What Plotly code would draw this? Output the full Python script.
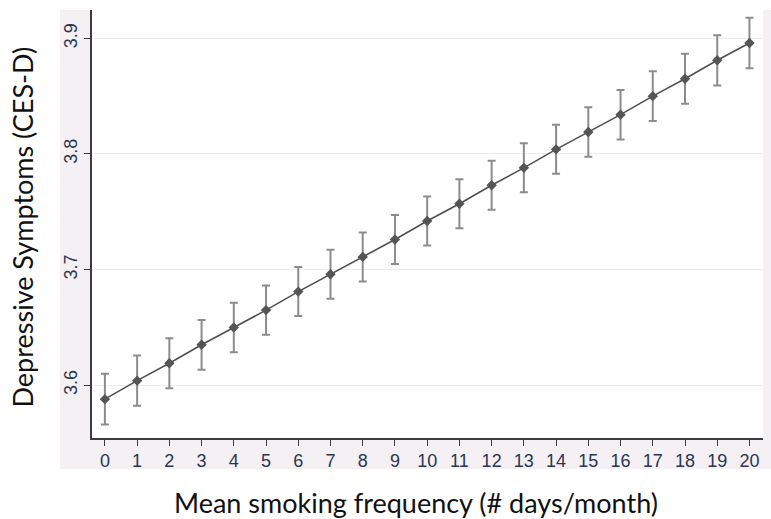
import plotly.graph_objects as go

# Data
smoking_days = list(range(0, 21))
cesd_mean = [3.588, 3.604, 3.619, 3.635, 3.650, 3.665, 3.681, 3.696, 3.711, 3.726,
             3.742, 3.757, 3.773, 3.788, 3.804, 3.819, 3.834, 3.850, 3.865, 3.881, 3.896]
ci_half = [0.022, 0.0218, 0.0216, 0.0215, 0.0214, 0.0213, 0.0212, 0.0212, 0.0212, 0.0212,
           0.0212, 0.0212, 0.0212, 0.0212, 0.0212, 0.0213, 0.0214, 0.0215, 0.0216, 0.0217, 0.0218]
y_ticks = [3.6, 3.7, 3.8, 3.9]
y_tick_labels = ["3.6", "3.7", "3.8", "3.9"]
x_title = "Mean smoking frequency (# days/month)"
y_title = "Depressive Symptoms (CES-D)"

W, H = 771, 519
L, R, T, B = 92, 8, 10, 81
PW, PH = W - L - R, H - T - B

def px_x(p):
    return (p - L) / PW

def px_y(p):
    return (H - B - p) / PH

fig = go.Figure()
fig.add_trace(go.Scatter(
    x=smoking_days, y=cesd_mean, mode="lines+markers",
    line=dict(color="#505050", width=1.6),
    marker=dict(symbol="diamond", size=8, color="#555555"),
    error_y=dict(type="data", array=ci_half, visible=True,
                 color="#8c8c8c", thickness=2, width=4),
    showlegend=False,
))

tick_font = dict(family="Liberation Sans, Arial, sans-serif", size=18, color="#2b3650")
band = "#f4f0f4"

def strip(x0, x1, y0, y1):
    return dict(type="rect", xref="paper", yref="paper",
                x0=px_x(x0), x1=px_x(x1), y0=px_y(y1), y1=px_y(y0),
                fillcolor=band, line=dict(width=0), layer="below")

fig.update_layout(
    width=W, height=H,
    margin=dict(l=L, r=R, t=T, b=B),
    paper_bgcolor="white",
    plot_bgcolor="white",
    xaxis=dict(
        range=[-0.4, 20.42], tickmode="array", tickvals=smoking_days,
        ticktext=[str(v) for v in smoking_days],
        showgrid=False, zeroline=False, showline=True, linecolor="#3c3c3c", linewidth=1.6,
        ticks="outside", ticklen=6, tickwidth=1.4, tickcolor="#3c3c3c",
        tickfont=tick_font,
    ),
    yaxis=dict(
        range=[3.5544, 3.9245], tickmode="array", tickvals=y_ticks, ticktext=y_tick_labels,
        showgrid=True, gridcolor="#ececec", gridwidth=1.2,
        zeroline=False, showline=True, linecolor="#3c3c3c", linewidth=1.6,
        ticks="outside", ticklen=6, tickwidth=1.4, tickcolor="#3c3c3c",
        tickangle=-90, tickfont=tick_font,
    ),
    shapes=[
        strip(60, 91, 10, 469),     # left band
        strip(91, 771, 439, 469),   # bottom band
        strip(763, 771, 10, 439),   # right band
    ],
    annotations=[
        dict(text=x_title, xref="paper", yref="paper", x=px_x(415.5), y=px_y(502),
             xanchor="center", yanchor="middle", showarrow=False,
             font=dict(family="Lato, sans-serif", size=27, color="#111111")),
        dict(text=y_title, xref="paper", yref="paper", x=px_x(22), y=px_y(227.5),
             xanchor="center", yanchor="middle", showarrow=False, textangle=-90,
             font=dict(family="Lato, sans-serif", size=27, color="#111111")),
    ],
)

fig.write_html("out.html")
